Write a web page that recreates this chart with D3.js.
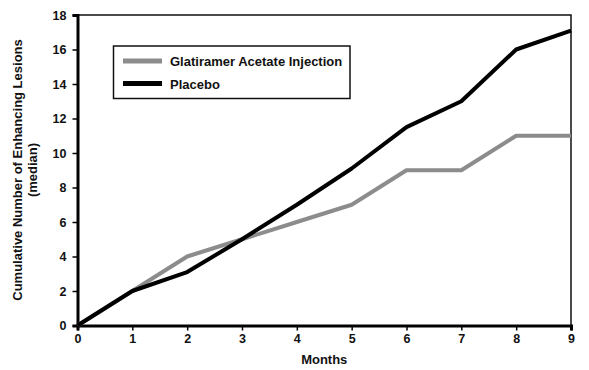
<!DOCTYPE html>
<html>
<head>
<meta charset="utf-8">
<script src="https://cdn.jsdelivr.net/npm/d3@7"></script>
<style>
  body { margin: 0; background: #fff; }
  text { font-family: "Liberation Sans", Arial, sans-serif; font-weight: bold; }
</style>
</head>
<body>
<div id="chart"></div>
<script>
const months = [0, 1, 2, 3, 4, 5, 6, 7, 8, 9]
const glatiramer = [0, 2, 4, 5, 6, 7, 9, 9, 11, 11]
const placebo = [0, 2, 3.1, 5, 7, 9.1, 11.5, 13, 16, 17.1]
const yTicks = [0, 2, 4, 6, 8, 10, 12, 14, 16, 18]
const seriesNames = ["Glatiramer Acetate Injection", "Placebo"]
const seriesColors = ["#8c8c8c", "#000"]

const width = 589, height = 370
const margin = {left: 77.5, right: 18, top: 15, bottom: 44.5}

const svg = d3.select("#chart").append("svg")
    .attr("width", width).attr("height", height)

const x = d3.scaleLinear().domain([0, 9]).range([margin.left, width - margin.right])
const y = d3.scaleLinear().domain([0, 18]).range([height - margin.bottom, margin.top])

// top / right frame
svg.append("path")
    .attr("d", `M${x(0)},${y(18)}H${x(9)}V${y(0)}`)
    .attr("fill", "none").attr("stroke", "#111").attr("stroke-width", 1.5)

// axes
const yAxis = svg.append("g")
    .attr("transform", `translate(${x(0)},0)`)
    .call(d3.axisLeft(y).tickValues(yTicks).tickSize(5).tickPadding(6))
const xAxis = svg.append("g")
    .attr("transform", `translate(0,${y(0)})`)
    .call(d3.axisBottom(x).tickValues(months).tickSize(5).tickPadding(4))

for (const ax of [yAxis, xAxis]) {
    ax.select(".domain").attr("stroke", "#000").attr("stroke-width", 3)
    ax.selectAll(".tick line").attr("stroke", "#000").attr("stroke-width", 1.5)
    ax.selectAll(".tick text").attr("fill", "#111").style("font-size", "12.5px")
        .style("font-family", '"Liberation Sans", Arial, sans-serif').style("font-weight", "bold")
}

// lines
const line = d3.line().x((d, i) => x(months[i])).y(d => y(d))
;[glatiramer, placebo].forEach((vals, i) => {
    svg.append("path")
        .datum(vals)
        .attr("d", line)
        .attr("fill", "none")
        .attr("stroke", seriesColors[i])
        .attr("stroke-width", 4)
        .attr("stroke-linejoin", "round")
})

// legend
const lg = svg.append("g")
lg.append("rect")
    .attr("x", 113.5).attr("y", 46).attr("width", 236.5).attr("height", 52.5)
    .attr("fill", "#fff").attr("stroke", "#111").attr("stroke-width", 1.5)
seriesNames.forEach((name, i) => {
    const ly = 61 + i * 22.5
    lg.append("line")
        .attr("x1", 123).attr("x2", 162).attr("y1", ly).attr("y2", ly)
        .attr("stroke", seriesColors[i]).attr("stroke-width", 5)
    lg.append("text")
        .attr("x", 170).attr("y", ly + 5)
        .attr("fill", "#111").style("font-size", "13px")
        .text(name)
})

// axis titles
svg.append("text")
    .attr("x", x(4.5)).attr("y", 364)
    .attr("text-anchor", "middle").attr("fill", "#111").style("font-size", "13px")
    .text("Months")

const yl = svg.append("text")
    .attr("transform", "translate(21.5,170) rotate(-90)")
    .attr("text-anchor", "middle").attr("fill", "#111").style("font-size", "13px")
yl.append("tspan").attr("x", 0).attr("dy", 0).text("Cumulative Number of Enhancing Lesions")
yl.append("tspan").attr("x", 0).attr("dy", 15).text("(median)")
</script>
</body>
</html>
